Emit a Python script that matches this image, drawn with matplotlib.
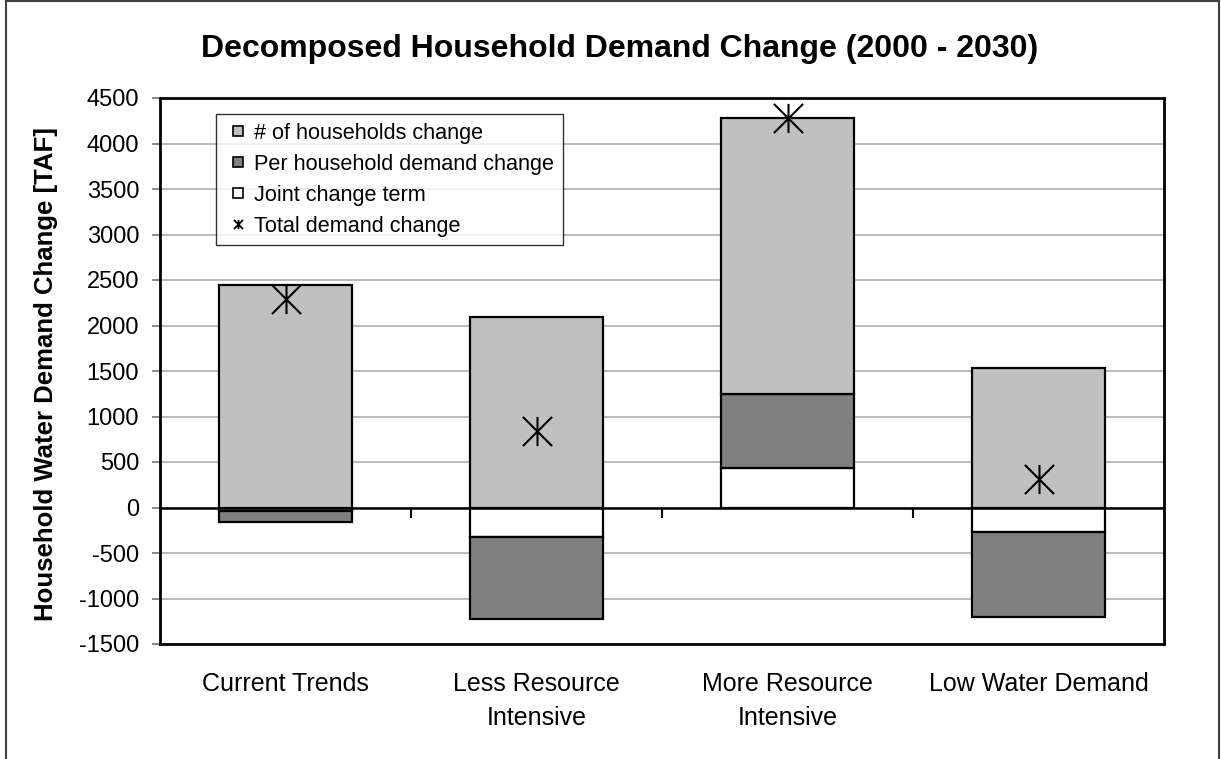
import matplotlib
matplotlib.use("Agg")
import matplotlib.pyplot as plt
from matplotlib.lines import Line2D
from matplotlib.markers import TICKDOWN
from matplotlib.path import Path
import numpy as np

plt.rcParams['font.family'] = ['Liberation Sans', 'DejaVu Sans']
plt.rcParams['axes.unicode_minus'] = False

categories = ["Current Trends", "Less Resource\nIntensive", "More Resource\nIntensive", "Low Water Demand"]
households_change = [2443, 2088, 3042, 1528]
per_household_change = [-114, -904, 809, -938]
joint_change = [-40, -326, 434, -270]
total_change = [2289, 838, 4285, 317]

series = [
    ("Joint change term", joint_change, "#FFFFFF"),
    ("Per household demand change", per_household_change, "#808080"),
    ("# of households change", households_change, "#C0C0C0"),
]

star = Path([(-1, -1), (1, 1), (-1, 1), (1, -1), (0, -1), (0, 1)],
            [Path.MOVETO, Path.LINETO, Path.MOVETO, Path.LINETO, Path.MOVETO, Path.LINETO])

W, H = 1221, 759
fig = plt.figure(figsize=(W / 100, H / 100), dpi=100)
L, R, T, B = 160, 1164, 98, 644
ax = fig.add_axes([L / W, 1 - B / H, (R - L) / W, (B - T) / H])

x = np.arange(len(categories))
pos_base = np.zeros(len(categories))
neg_base = np.zeros(len(categories))
for name, vals, col in series:
    vals = np.array(vals, dtype=float)
    bottoms = np.where(vals >= 0, pos_base, neg_base)
    ax.bar(x, vals, width=0.53, bottom=bottoms, color=col, edgecolor="black",
           linewidth=1.6, zorder=3)
    pos_base = pos_base + np.where(vals >= 0, vals, 0)
    neg_base = neg_base + np.where(vals < 0, vals, 0)

ax.plot(x, total_change, linestyle="none", marker=star, markersize=21,
        mec="black", mfc="none", mew=1.5, zorder=5)

ax.set_xlim(-0.5, len(categories) - 0.5)
ax.set_ylim(-1500, 4500)
ax.set_yticks(np.arange(-1500, 4501, 500))
ax.yaxis.grid(True, color="#B4B4B4", linewidth=1.3, zorder=0)
ax.set_axisbelow(True)
ax.axhline(0, color="black", linewidth=1.8, zorder=4)
ax.plot([0.5, 1.5, 2.5], [0, 0, 0], linestyle="none", marker=TICKDOWN,
        markersize=7, mec="black", mew=1.5, zorder=4, clip_on=False)

for s in ax.spines.values():
    s.set_color("black")
    s.set_linewidth(2.0)

ax.tick_params(axis="y", direction="out", length=6, width=1.3, color="#808080",
               labelsize=17, pad=9)
ax.set_xticks(x)
ax.set_xticklabels(categories, fontsize=18, linespacing=1.55)
ax.tick_params(axis="x", length=0, pad=20)

fig.text(46 / W, 1 - 374 / H, "Household Water Demand Change [TAF]", rotation=90,
         fontsize=18.5, fontweight="bold", ha="center", va="center")
fig.text(620 / W, 1 - 49 / H, "Decomposed Household Demand Change (2000 - 2030)",
         fontsize=23, fontweight="bold", ha="center", va="center")

handles = [
    Line2D([], [], linestyle="none", marker="s", markersize=7.5, mfc="#C0C0C0", mec="black", mew=1.2),
    Line2D([], [], linestyle="none", marker="s", markersize=7.5, mfc="#808080", mec="black", mew=1.2),
    Line2D([], [], linestyle="none", marker="s", markersize=7.5, mfc="#FFFFFF", mec="black", mew=1.2),
    Line2D([], [], linestyle="none", marker=star, markersize=6.5, mec="black", mew=1.3),
]
labels = ["# of households change", "Per household demand change",
          "Joint change term", "Total demand change"]
leg = ax.legend(handles, labels, loc="upper left",
                bbox_to_anchor=((216 - L) / (R - L), (B - 114) / (B - T)),
                borderaxespad=0, fontsize=15.6, frameon=True, fancybox=False,
                edgecolor="black", handlelength=1.2, handleheight=0.7,
                handletextpad=0.15, labelspacing=0.46, borderpad=0.4)
leg.get_frame().set_linewidth(1.0)
leg.set_zorder(6)

# outer figure border
fig.add_artist(Line2D([6 / W, 6 / W], [0, 1 - 1 / H], color="#404040", lw=1.5))
fig.add_artist(Line2D([6 / W, 1 - 2 / W], [1 - 1 / H, 1 - 1 / H], color="#404040", lw=1.5))
fig.add_artist(Line2D([1 - 2 / W, 1 - 2 / W], [0, 1 - 1 / H], color="#404040", lw=1.5))

fig.savefig("out.png", dpi=100)
